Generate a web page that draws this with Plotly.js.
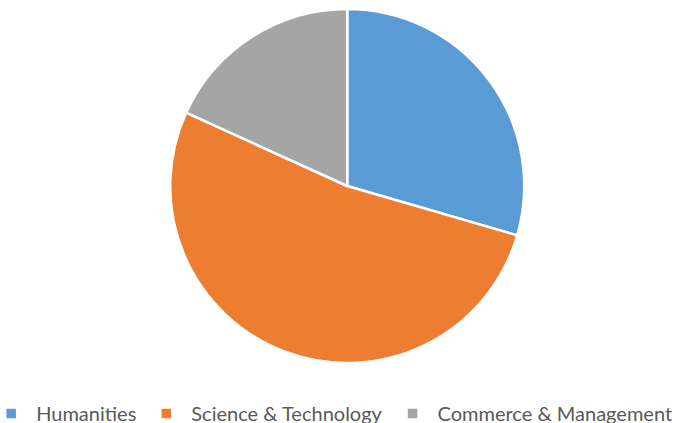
<!DOCTYPE html>
<html><head><meta charset="utf-8">
<script src="https://cdn.plot.ly/plotly-3.0.1.min.js"></script>
<style>body{margin:0;padding:0;background:#fff}#c{width:691px;height:423px}</style>
</head><body><div id="c"></div>
<script>
const categories = ["Humanities", "Science & Technology", "Commerce & Management"];
const values = [29.5, 52.3, 18.2];
const colors = ["#5B9BD5", "#ED7D31", "#A5A5A5"];

Plotly.newPlot("c", [{
  type: "pie",
  labels: categories,
  values: values,
  sort: false,
  direction: "clockwise",
  rotation: 0,
  textinfo: "none",
  hoverinfo: "none",
  marker: {colors: colors, line: {color: "#ffffff", width: 2.5}},
  domain: {x: [0.005, 1], y: [0.0763, 0.9771]}
}], {
  width: 691, height: 423,
  margin: {l: 0, r: 0, t: 0, b: 30, autoexpand: false},
  paper_bgcolor: "#ffffff",
  showlegend: true,
  legend: {
    orientation: "h", x: -0.02, xanchor: "left", y: -0.0025, yanchor: "top",
    font: {family: "Lato, Carlito, sans-serif", size: 20, color: "#595959"},
    itemwidth: 40, tracegroupgap: 0
  }
}, {staticPlot: true});
</script></body></html>
